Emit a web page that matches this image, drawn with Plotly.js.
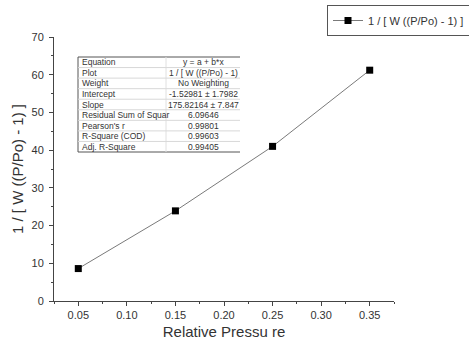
<!DOCTYPE html>
<html>
<head>
<meta charset="utf-8">
<script src="https://cdn.plot.ly/plotly-3.0.1.min.js"></script>
<style>html,body{margin:0;padding:0;background:#fff;overflow:hidden}#chart{width:469px;height:345px}</style>
</head>
<body>
<div id="chart"></div>
<script>
const relativePressure = [0.05, 0.15, 0.25, 0.35];
const betValues = [8.6, 23.9, 41.0, 61.2];
const seriesName = "1 / [ W ((P/Po) - 1) ]";
const tableLabels = ["Equation", "Plot", "Weight", "Intercept", "Slope", "Residual Sum of Squar", "Pearson's r", "R-Square (COD)", "Adj. R-Square"];
const tableValues = ["y = a + b*x", "1 / [ W ((P/Po) - 1)", "No Weighting", "-1.52981 ± 1.7982", "175.82164 ± 7.847", "6.09646", "0.99801", "0.99603", "0.99405"];

// plot area in pixels: x 54..394, y 37..301
const L = 54, R = 394, T = 37, B = 301;
const px = v => (v - L) / (R - L);
const py = v => (B - v) / (B - T);

const tLeft = 78, tRight = 240, tTop = 57, tBottom = 152, tSplit = 166;
const rowH = (tBottom - tTop) / tableLabels.length;

const shapes = [];
const annotations = [];
shapes.push({type: 'line', xref: 'paper', yref: 'paper', x0: px(tLeft), x1: px(tRight), y0: py(tTop), y1: py(tTop), line: {color: '#555', width: 1}});
shapes.push({type: 'line', xref: 'paper', yref: 'paper', x0: px(tLeft), x1: px(tRight), y0: py(tBottom), y1: py(tBottom), line: {color: '#555', width: 1}});
shapes.push({type: 'line', xref: 'paper', yref: 'paper', x0: px(tLeft), x1: px(tLeft), y0: py(tTop), y1: py(tBottom), line: {color: '#555', width: 1}});
shapes.push({type: 'line', xref: 'paper', yref: 'paper', x0: px(tSplit), x1: px(tSplit), y0: py(tTop), y1: py(tBottom), line: {color: '#e0e0e0', width: 1}});
for (let i = 1; i < tableLabels.length; i++) {
  const yy = tTop + i * rowH;
  shapes.push({type: 'line', xref: 'paper', yref: 'paper', x0: px(tLeft), x1: px(tRight), y0: py(yy), y1: py(yy), line: {color: '#d8d8d8', width: 1}});
}
tableLabels.forEach((lab, i) => {
  const yc = tTop + (i + 0.5) * rowH;
  annotations.push({xref: 'paper', yref: 'paper', x: px(tLeft + 2), y: py(yc), text: lab, showarrow: false, xanchor: 'left', yanchor: 'middle', font: {family: 'Liberation Sans, Arial', size: 8.5, color: '#333'}});
  annotations.push({xref: 'paper', yref: 'paper', x: px((tSplit + tRight) / 2), y: py(yc), text: tableValues[i], showarrow: false, xanchor: 'center', yanchor: 'middle', font: {family: 'Liberation Sans, Arial', size: 8.5, color: '#333'}});
});

const trace = {
  x: relativePressure,
  y: betValues,
  name: seriesName,
  type: 'scatter',
  mode: 'lines+markers',
  line: {color: '#7a7a7a', width: 1},
  marker: {symbol: 'square', size: 7, color: '#000'}
};

const axisCommon = {
  showgrid: false,
  zeroline: false,
  showline: true,
  linecolor: '#444',
  linewidth: 1,
  ticks: 'outside',
  ticklen: 4,
  tickcolor: '#444',
  tickfont: {family: 'Liberation Sans, Arial', size: 11, color: '#333'}
};

const layout = {
  width: 469,
  height: 345,
  margin: {l: L, r: 469 - R, t: T, b: 345 - B, autoexpand: false},
  paper_bgcolor: '#fff',
  plot_bgcolor: '#fff',
  showlegend: true,
  legend: {
    x: px(327), y: py(5), xanchor: 'left', yanchor: 'top',
    bgcolor: '#fff', bordercolor: '#555', borderwidth: 1,
    font: {family: 'Liberation Sans, Arial', size: 11, color: '#333'},
    tracegroupgap: 0, itemwidth: 30
  },
  xaxis: Object.assign({}, axisCommon, {
    range: [0.025, 0.375],
    dtick: 0.05, tick0: 0.05,
    tickformat: '.2f',
    minor: {ticks: 'outside', ticklen: 2, dtick: 0.025, tick0: 0.025, tickcolor: '#444'},
    title: {text: 'Relative Pressu re', font: {family: 'Liberation Sans, Arial', size: 15, color: '#333'}, standoff: 6}
  }),
  yaxis: Object.assign({}, axisCommon, {
    range: [0, 70],
    dtick: 10,
    ticklabelstandoff: 3,
    minor: {ticks: 'outside', ticklen: 2, dtick: 5, tickcolor: '#444'},
    title: {text: seriesName, font: {family: 'Liberation Sans, Arial', size: 15, color: '#333'}, standoff: 4}
  }),
  shapes: shapes,
  annotations: annotations
};

Plotly.newPlot('chart', [trace], layout, {displayModeBar: false, staticPlot: true});
</script>
</body>
</html>
